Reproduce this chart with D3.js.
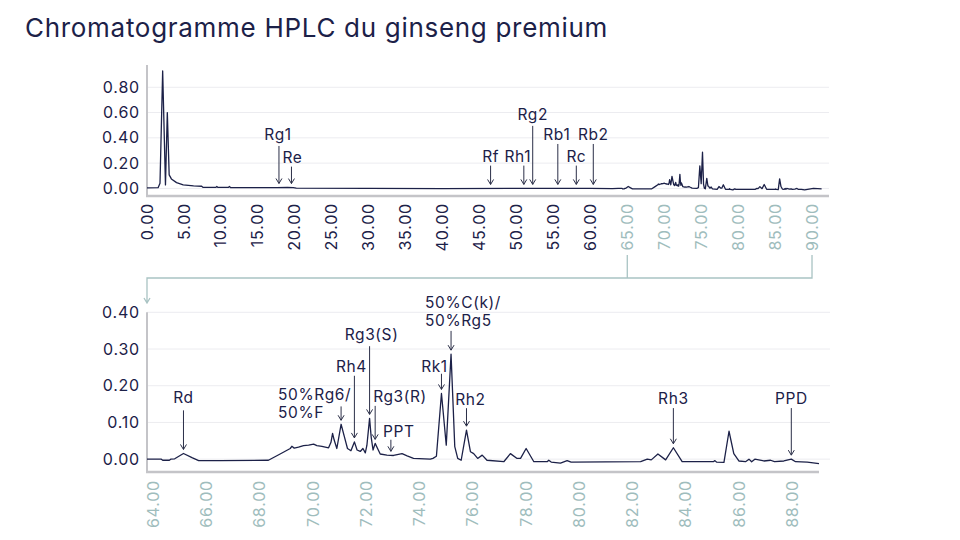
<html>
<head>
<meta charset="utf-8">
<script src="https://d3js.org/d3.v7.min.js"></script>
<style>
  body { margin: 0; background: #fff; }
  svg { display: block; font-family: Inter, "DejaVu Sans", sans-serif; }
</style>
</head>
<body>
<svg id="chart" width="960" height="540"></svg>
<script>
// retention time (min) and absorbance (AU)
const times = [0, 1.5, 1.76, 2.12, 2.5, 2.75, 3.0, 3.3, 4.0, 4.9, 6.3, 7.4, 7.6, 9.3, 9.45, 9.6, 11.0, 11.15, 11.3,
  17.5, 19.0, 19.8, 20.2, 30, 40, 50, 60, 63.0,
  63.76, 64.3, 64.35, 64.6, 64.65, 64.8, 65.13, 65.45, 65.7, 66.5, 68.32, 68.76, 69.14, 69.2, 69.29, 69.45, 69.64, 69.83,
  70.02, 70.14, 70.33, 70.58, 70.67, 70.73, 70.79, 70.89, 71.05, 71.17, 71.29, 71.42, 71.55, 71.65, 71.77, 71.87, 71.96,
  72.02, 72.12, 72.18, 72.25, 72.33, 72.42, 72.52, 72.77, 73.02, 73.34, 73.53, 73.77, 74.4, 74.5, 74.63, 74.82, 75.0,
  75.18, 75.32, 75.43, 75.56, 75.76, 75.91, 76.03, 76.18, 76.35, 76.53, 77.16, 77.41, 77.66, 77.79, 78.0, 78.29, 78.79,
  78.85, 78.94, 79.29, 79.54, 79.69, 82.3, 82.55, 82.7, 82.95, 83.24, 83.53, 83.86, 85.03, 85.09, 85.15, 85.43, 85.62,
  85.8, 85.99, 86.24, 86.37, 86.47, 86.59, 86.93, 87.18, 87.33, 87.68, 87.96, 88.12, 88.56, 89.0, 90.2, 91.3];
const absorb = [0.005, 0.006, 0.04, 0.929, 0.028, 0.60, 0.107, 0.075, 0.046, 0.028, 0.02, 0.017, 0.008, 0.008, 0.015, 0.008, 0.008, 0.015, 0.007,
  0.007, 0.008, 0.006, 0.002, 0.0, -0.001, 0.0, 0.0, -0.002,
  0.0, 0.0, -0.003, -0.003, 0.0, 0.001, 0.0155, 0.004, -0.004, -0.004, -0.003, 0.014, 0.029, 0.035, 0.03, 0.033, 0.037, 0.038,
  0.041, 0.037, 0.035, 0.031, 0.046, 0.07, 0.052, 0.029, 0.095, 0.062, 0.029, 0.023, 0.047, 0.025, 0.021, 0.029, 0.017,
  0.038, 0.111, 0.06, 0.025, 0.043, 0.029, 0.014, 0.011, 0.01, 0.015, 0.009, 0.002, 0.0, 0.002, 0.008, 0.179, 0.038,
  0.286, 0.034, 0.002, -0.003, 0.079, 0.02, 0.015, 0.002, 0.011, -0.003, -0.007, 0.015, 0.002, 0.002, 0.029, -0.007, -0.007,
  -0.003, -0.008, -0.011, -0.004, -0.008, -0.007, 0.0, -0.002, 0.014, -0.002, 0.031, -0.007, -0.007, -0.004, -0.008, -0.009, 0.076,
  0.015, -0.005, -0.007, 0.0, -0.007, 0.0, -0.005, -0.003, -0.007, -0.005, 0.0, -0.007, -0.008, -0.012, 0.0, -0.004];

const fullTicks = [0, 5, 10, 15, 20, 25, 30, 35, 40, 45, 50, 55, 60, 65, 70, 75, 80, 85, 90];
const fullYTicks = [0, 0.2, 0.4, 0.6, 0.8];
const zoomTicks = [64, 66, 68, 70, 72, 74, 76, 78, 80, 82, 84, 86, 88];
const zoomYTicks = [0, 0.1, 0.2, 0.3, 0.4];
const zoomWindow = [63.76, 89.0];

const fullPeakNames = ["Rg1", "Re", "Rf", "Rh1", "Rg2", "Rb1", "Rc", "Rb2"];
const fullPeakTimes = [17.86, 19.55, 46.5, 51.0, 52.2, 55.6, 58.1, 60.4];
const zoomPeakNames = ["Rd", "50%Rg6/\n50%F", "Rh4", "Rg3(S)", "Rg3(R)", "PPT", "Rk1", "50%C(k)/\n50%Rg5", "Rh2", "Rh3", "PPD"];
const zoomPeakTimes = [65.13, 71.05, 71.55, 72.12, 72.33, 72.92, 74.82, 75.18, 75.76, 83.53, 87.96];

// label placement: baseline level (AU), horizontal shift, anchor, gap to arrow
const labelPos = {
  "Rg1": [0.383, -1, "middle", 6], "Re": [0.204, 1, "middle", 4], "Rf": [0.212, 0, "middle", 4],
  "Rh1": [0.212, -6, "middle", 4], "Rg2": [0.542, 0, "middle", 6], "Rb1": [0.383, -1, "middle", 4],
  "Rc": [0.212, 0, "middle", 4], "Rb2": [0.383, 0, "middle", 4],
  "Rd": [0.152, 0, "middle", 7], "50%Rg6/\n50%F": [0.160, -63, "start", 6], "Rh4": [0.238, -3, "middle", 4],
  "Rg3(S)": [0.324, 2, "middle", 6], "Rg3(R)": [0.156, -2, "start", 4], "PPT": [0.061, 8, "middle", 3],
  "Rk1": [0.238, -7, "middle", 2], "50%C(k)/\n50%Rg5": [0.412, -26, "start", 23], "Rh2": [0.147, 4, "middle", 3],
  "Rh3": [0.150, 0, "middle", 4], "PPD": [0.150, 0, "middle", 4]
};

const ink = "#1c2148";
const teal = "#9fbdbd";
const svg = d3.select("#chart");

svg.append("text").attr("x", 25).attr("y", 37)
  .attr("font-size", 26).attr("letter-spacing", 0.7).attr("fill", ink)
  .text("Chromatogramme HPLC du ginseng premium");

const series = times.map((t, i) => ({ t: t, v: absorb[i] }));
const zoomSeries = series.filter(d => d.t >= zoomWindow[0] && d.t <= zoomWindow[1]);

const xFull = d3.scaleLinear().domain([0, 92.3]).range([147, 829]);
const yFull = d3.scaleLinear().domain([-0.06, 0.976]).range([196, 65]);
const xZoom = d3.scaleLinear().domain(zoomWindow).range([147, 819]);
const yZoom = d3.scaleLinear().domain([-0.035, 0.40]).range([472, 312.3]);

const bis = d3.bisector(d => d.t).left;
function valueAt(t) {
  let i = bis(series, t);
  if (i <= 0) return series[0].v;
  const a = series[i - 1], b = series[i];
  return a.v + (b.v - a.v) * (t - a.t) / (b.t - a.t);
}

function panel(x, y, yTicks, xTicks, xFmtColor, gridRight, data, names, peakTimes, tickGap) {
  const g = svg.append("g");
  // grid
  g.selectAll("line.grid").data(yTicks).join("line").attr("class", "grid")
    .attr("x1", x.range()[0]).attr("x2", gridRight)
    .attr("y1", d => y(d)).attr("y2", d => y(d))
    .attr("stroke", "#ececf0").attr("stroke-width", 1);
  // axes lines
  g.append("line").attr("x1", x.range()[0]).attr("x2", x.range()[0])
    .attr("y1", y.range()[1]).attr("y2", y.range()[0])
    .attr("stroke", "#c4c4c8").attr("stroke-width", 2);
  g.append("line").attr("x1", x.range()[0] - 1).attr("x2", x.range()[1])
    .attr("y1", y.range()[0]).attr("y2", y.range()[0])
    .attr("stroke", "#c4c4c8").attr("stroke-width", 2.5);
  // y tick labels
  g.selectAll("text.ytick").data(yTicks).join("text").attr("class", "ytick")
    .attr("x", x.range()[0] - 7).attr("y", d => y(d)).attr("dy", "0.35em")
    .attr("text-anchor", "end").attr("font-size", 16).attr("letter-spacing", 0.8).attr("fill", ink)
    .text(d => d3.format(".2f")(d));
  // x tick labels, rotated
  g.selectAll("text.xtick").data(xTicks).join("text").attr("class", "xtick")
    .attr("transform", d => `translate(${x(d)},${y.range()[0] + tickGap}) rotate(-90)`)
    .attr("dy", "0.35em").attr("text-anchor", "end")
    .attr("font-size", 16).attr("letter-spacing", 0.8).attr("fill", xFmtColor)
    .text(d => d3.format(".2f")(d));
  // trace
  g.append("path").datum(data)
    .attr("d", d3.line().x(d => x(d.t)).y(d => y(d.v)))
    .attr("fill", "none").attr("stroke", ink).attr("stroke-width", 1.3)
    .attr("stroke-linejoin", "round");
  // peak annotations
  names.forEach((name, i) => {
    const p = labelPos[name];
    const ax = x(peakTimes[i]);
    const ly = y(p[0]);
    const tip = y(valueAt(peakTimes[i])) - 4;
    const top = ly + p[3];
    g.append("path")
      .attr("d", `M${ax},${top}V${tip}M${ax - 3},${tip - 5}L${ax},${tip}L${ax + 3},${tip - 5}`)
      .attr("fill", "none").attr("stroke", "#2b2f48").attr("stroke-width", 1);
    const txt = g.append("text").attr("x", ax + p[1]).attr("y", ly)
      .attr("text-anchor", p[2]).attr("font-size", 15.5).attr("letter-spacing", 0.6).attr("fill", ink);
    name.split("\n").forEach((line, k) => {
      txt.append("tspan").attr("x", ax + p[1]).attr("dy", k ? 18 : 0).text(line);
    });
  });
  return g;
}

panel(xFull, yFull, fullYTicks, fullTicks, d => d >= 65 ? teal : ink, 829, series, fullPeakNames, fullPeakTimes, 7);
panel(xZoom, yZoom, zoomYTicks, zoomTicks, teal, 830, zoomSeries, zoomPeakNames, zoomPeakTimes, 8);

// bracket linking the zoomed window to the lower panel
const bx0 = xFull(65), bx1 = xFull(90), by = 278, left = xZoom.range()[0];
svg.append("path")
  .attr("d", `M${bx0},255V${by}M${bx1},255V${by}H${left}V303M${left - 3},298L${left},303L${left + 3},298`)
  .attr("fill", "none").attr("stroke", "#a9c3c3").attr("stroke-width", 1.3);
</script>
</body>
</html>
